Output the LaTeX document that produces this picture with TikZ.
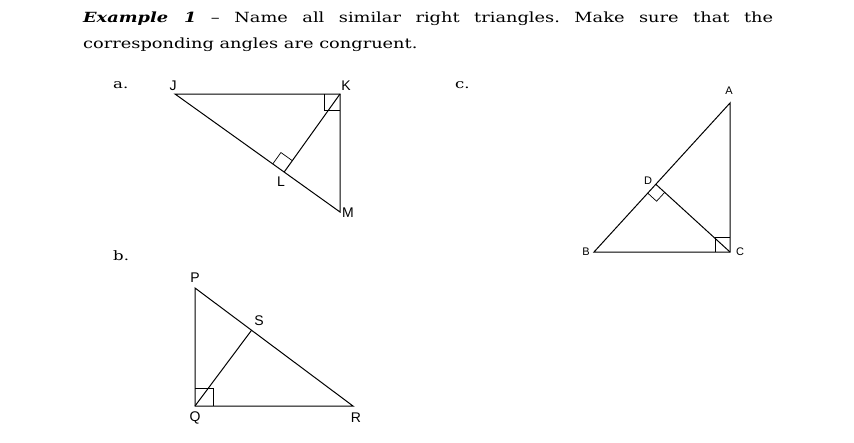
\documentclass[tikz,border=0pt]{standalone}
\usepackage{fontspec}
\setmainfont{DejaVu Serif}[FakeStretch=1.27]
\setsansfont{Liberation Sans}
\usetikzlibrary{calc}
\frenchspacing

% right angle box: corner, leg, leg, size
\newcommand\rtsq[4]{%
  \draw[rtbox] ($(#1)!#4!(#2)$) -- ($(#1)!#4!(#2)+(#1)!#4!(#3)-(#1)$) -- ($(#1)!#4!(#3)$);}

\begin{document}
\begin{tikzpicture}[x=1pt,y=-1pt,
    side/.style={line width=1pt},
    rtbox/.style={line width=0.7pt},
    vlbl/.style={font=\sffamily\fontsize{14}{14}\selectfont, inner sep=0pt},
    slbl/.style={font=\sffamily\fontsize{11}{11}\selectfont, inner sep=0pt},
    part/.style={font=\fontsize{13}{13}\selectfont, anchor=base west, inner sep=0pt}]

  \useasboundingbox (0,0) rectangle (854,442);

  % Question text
  \node[anchor=north west, inner sep=0pt, text width=690pt, align=justify,
        font=\fontsize{14}{26}\selectfont] (txt) at (83,12)
    {\textbf{\textit{Example 1}} -- Name all similar right triangles. Make sure that the\linebreak
     corresponding angles are congruent.};

  \node[part] (pa) at (113,88) {a.};
  \node[part] (pb) at (113,260) {b.};
  \node[part] (pc) at (455,88) {c.};

  % Define vertices
  \coordinate (J) at (175,94);
  \coordinate (K) at (340,94);
  \coordinate (M) at (340,212);
  \coordinate (L) at ($(J)!(K)!(M)$);

  \coordinate (P) at (195,288);
  \coordinate (Q) at (195,406);
  \coordinate (R) at (353,406);
  \coordinate (S) at ($(P)!(Q)!(R)$);

  \coordinate (A) at (730,103);
  \coordinate (B) at (594,252);
  \coordinate (C) at (730,252);
  \coordinate (D) at ($(A)!(C)!(B)$);

  % Triangles
  \draw[side] (J) -- (K) -- (M) -- cycle;
  \draw[side] (K) -- (L);
  \draw[side] (P) -- (Q) -- (R) -- cycle;
  \draw[side] (Q) -- (S);
  \draw[side] (A) -- (B) -- (C) -- cycle;
  \draw[side] (C) -- (D);

  % Right angles
  \rtsq{K}{J}{M}{16pt}
  \rtsq{L}{J}{K}{14pt}
  \rtsq{Q}{P}{R}{18pt}
  \rtsq{D}{B}{C}{12pt}
  \rtsq{C}{B}{A}{15pt}

  % Labels
  \node[vlbl] (lJ) at (173,86) {J};
  \node[vlbl] (lK) at (346,86) {K};
  \node[vlbl] (lL) at (281,182) {L};
  \node[vlbl] (lM) at (348,213) {M};
  \node[vlbl] (lP) at (195,278) {P};
  \node[vlbl] (lS) at (259,321) {S};
  \node[vlbl] (lQ) at (195,418) {Q};
  \node[vlbl] (lR) at (356,418) {R};
  \node[slbl] (lA) at (729,91) {A};
  \node[slbl] (lD) at (648,181) {D};
  \node[slbl] (lB) at (586,252) {B};
  \node[slbl] (lC) at (740,252) {C};

\end{tikzpicture}
\end{document}
